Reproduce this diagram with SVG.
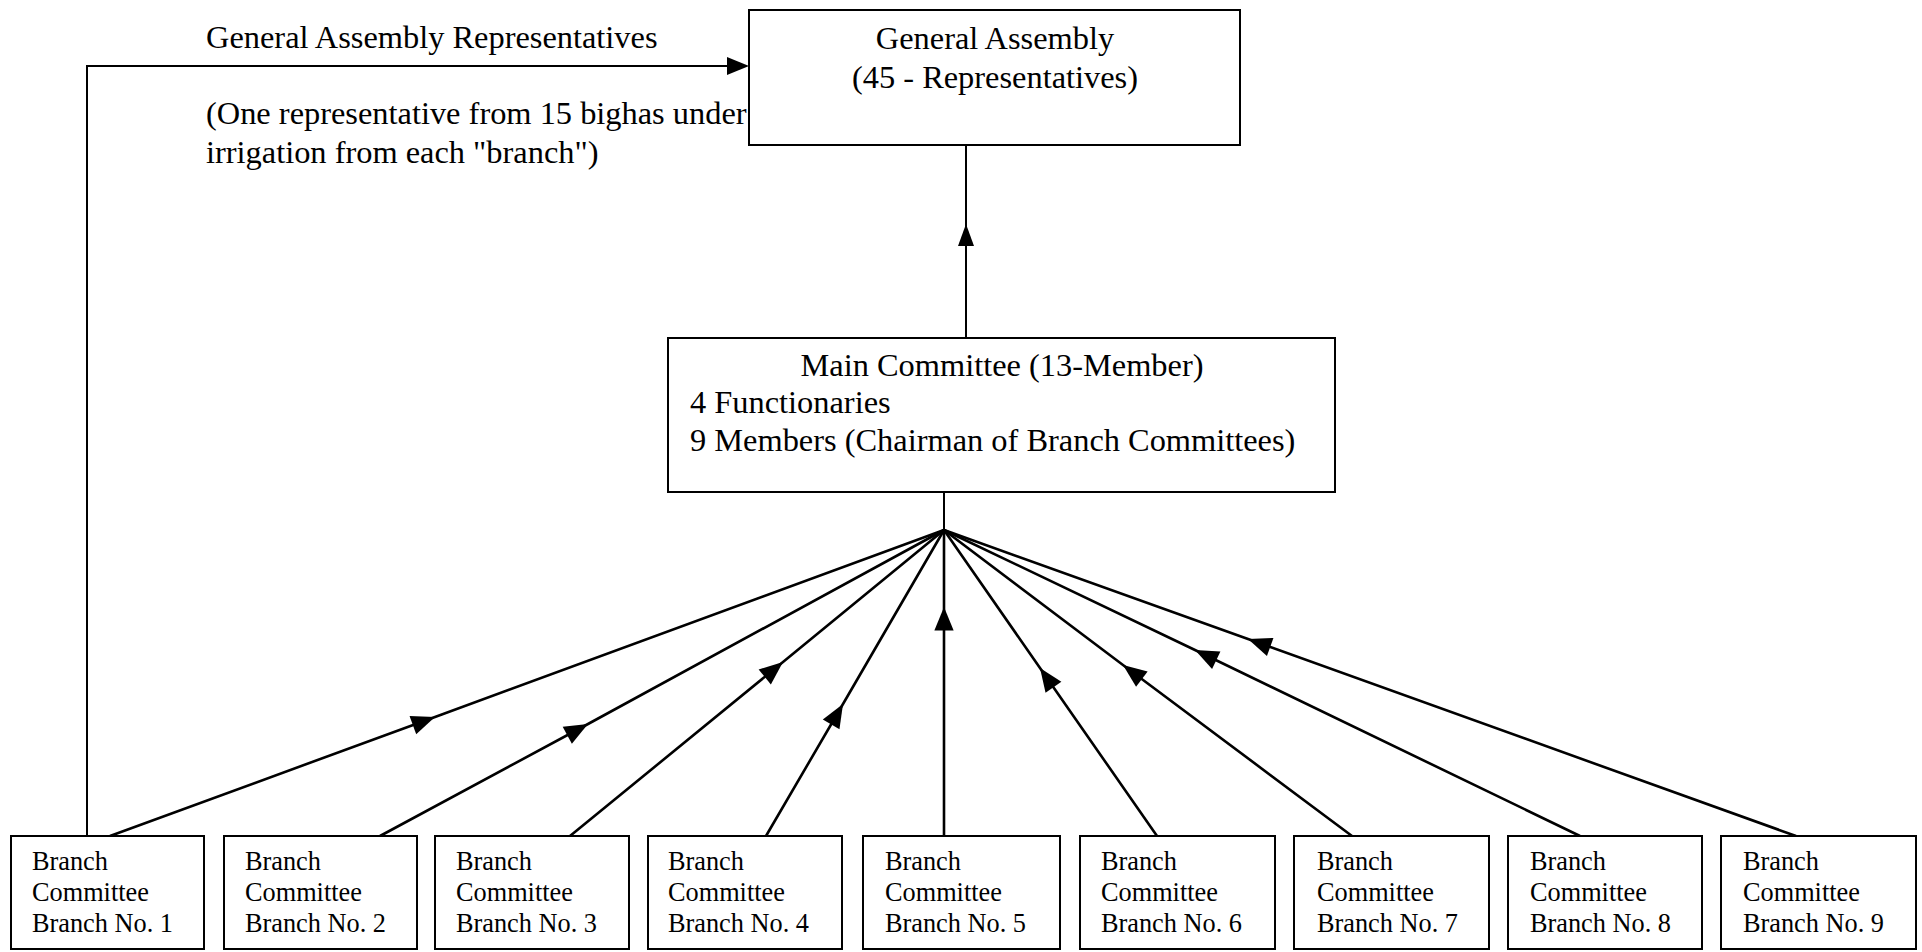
<svg xmlns="http://www.w3.org/2000/svg" width="1922" height="952" viewBox="0 0 1922 952">
<style>
.box{fill:#fff;stroke:#000;stroke-width:2}
.t{font-family:"Liberation Serif","Times New Roman",serif;font-size:32.4px;fill:#000}
.s{font-family:"Liberation Serif","Times New Roman",serif;font-size:26.3px;fill:#000}
.c{text-anchor:middle}
.ln{fill:none;stroke:#000;stroke-width:2}
.fan{fill:none;stroke:#000;stroke-width:2.6;marker-mid:url(#ah)}
</style>
<defs>
<marker id="ah" markerUnits="userSpaceOnUse" markerWidth="30" markerHeight="30" viewBox="-24 -12 28 24" refX="0" refY="0" orient="auto">
<path d="M0,0 L-22,-9 L-22,9 Z" fill="#000"/>
</marker>
</defs>
<rect width="1922" height="952" fill="#fff"/>
<g id="connectors">
<path class="ln" d="M87,836 V66 H729" />
<path d="M749,66 L727,57 L727,75 Z" fill="#000"/>
<path class="ln" d="M966,338 V146" />
<path d="M966,224 L958,246 L974,246 Z" fill="#000"/>
<path class="ln" d="M944,492 V530" />
<path class="fan" d="M110,836 L435,717 L944,530" />
<path class="fan" d="M380,836 L588,724 L944,530" />
<path class="fan" d="M570,836 L783,662 L944,530" />
<path class="fan" d="M766,836 L843,704 L944,530" />
<path class="fan" d="M944,836 L944,607 L944,530" />
<path class="fan" d="M1157,836 L1040,668 L944,530" />
<path class="fan" d="M1352,836 L1123,665 L944,530" />
<path class="fan" d="M1580,836 L1195,650 L944,530" />
<path class="fan" d="M1796,836 L1248,639 L944,530" />
</g>
<g id="ga-label">
<text class="t" x="206" y="48">General Assembly Representatives</text>
<text class="t" x="206" y="124">(One representative from 15 bighas under</text>
<text class="t" x="206" y="163">irrigation from each "branch")</text>
</g>
<g id="general-assembly">
<rect class="box" x="749" y="10" width="491" height="135"/>
<text class="t c" x="995" y="49">General Assembly</text>
<text class="t c" x="995" y="88">(45 - Representatives)</text>
</g>
<g id="main-committee">
<rect class="box" x="668" y="338" width="667" height="154"/>
<text class="t c" x="1002" y="376">Main Committee (13-Member)</text>
<text class="t" x="690" y="413">4 Functionaries</text>
<text class="t" x="690" y="451">9 Members (Chairman of Branch Committees)</text>
</g>
<g id="branch-1"><rect class="box" x="11" y="836" width="193" height="113"/><text class="s" x="32" y="870">Branch</text><text class="s" x="32" y="901">Committee</text><text class="s" x="32" y="932">Branch No. 1</text></g>
<g id="branch-2"><rect class="box" x="224" y="836" width="193" height="113"/><text class="s" x="245" y="870">Branch</text><text class="s" x="245" y="901">Committee</text><text class="s" x="245" y="932">Branch No. 2</text></g>
<g id="branch-3"><rect class="box" x="435" y="836" width="194" height="113"/><text class="s" x="456" y="870">Branch</text><text class="s" x="456" y="901">Committee</text><text class="s" x="456" y="932">Branch No. 3</text></g>
<g id="branch-4"><rect class="box" x="648" y="836" width="194" height="113"/><text class="s" x="668" y="870">Branch</text><text class="s" x="668" y="901">Committee</text><text class="s" x="668" y="932">Branch No. 4</text></g>
<g id="branch-5"><rect class="box" x="863" y="836" width="197" height="113"/><text class="s" x="885" y="870">Branch</text><text class="s" x="885" y="901">Committee</text><text class="s" x="885" y="932">Branch No. 5</text></g>
<g id="branch-6"><rect class="box" x="1080" y="836" width="195" height="113"/><text class="s" x="1101" y="870">Branch</text><text class="s" x="1101" y="901">Committee</text><text class="s" x="1101" y="932">Branch No. 6</text></g>
<g id="branch-7"><rect class="box" x="1294" y="836" width="195" height="113"/><text class="s" x="1317" y="870">Branch</text><text class="s" x="1317" y="901">Committee</text><text class="s" x="1317" y="932">Branch No. 7</text></g>
<g id="branch-8"><rect class="box" x="1508" y="836" width="194" height="113"/><text class="s" x="1530" y="870">Branch</text><text class="s" x="1530" y="901">Committee</text><text class="s" x="1530" y="932">Branch No. 8</text></g>
<g id="branch-9"><rect class="box" x="1721" y="836" width="195" height="113"/><text class="s" x="1743" y="870">Branch</text><text class="s" x="1743" y="901">Committee</text><text class="s" x="1743" y="932">Branch No. 9</text></g>
</svg>
